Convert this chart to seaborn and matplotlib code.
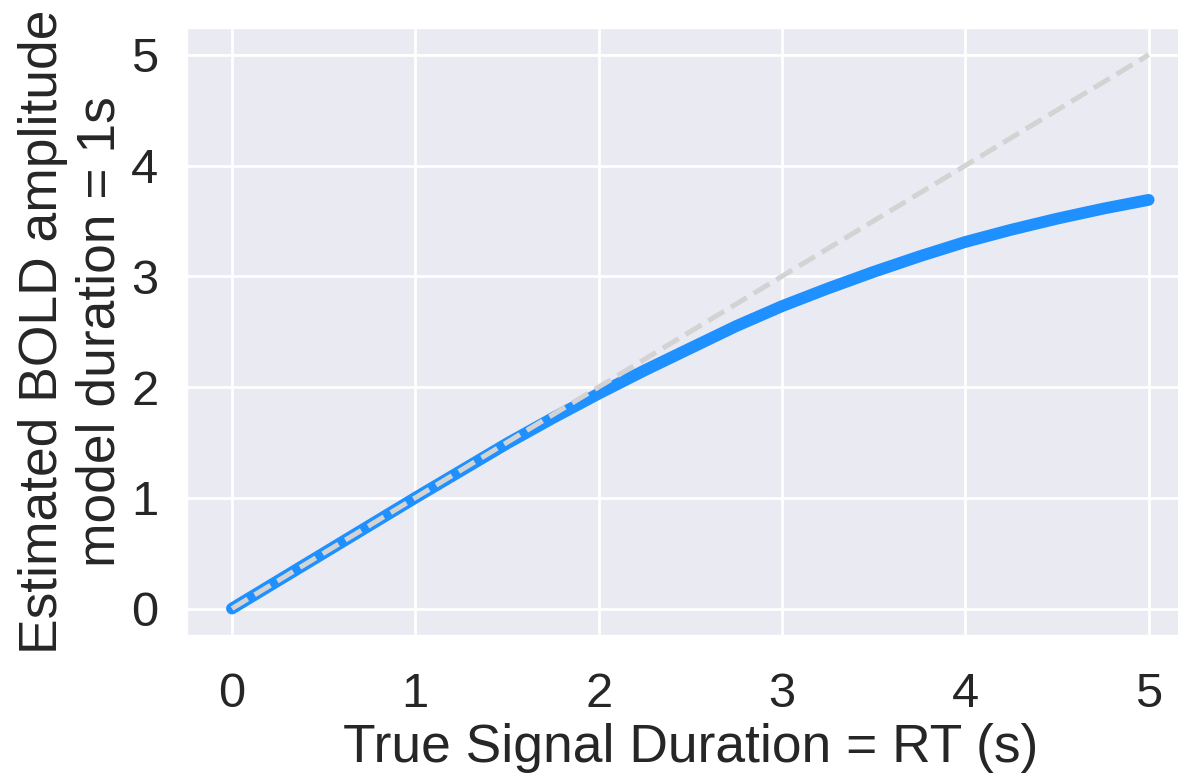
import seaborn as sns
import matplotlib.pyplot as plt
import pandas as pd

# true signal duration (s) and estimated amplitude with a 1s model
rt = [0.0, 0.25, 0.5, 0.75, 1.0, 1.25, 1.5, 1.75, 2.0, 2.25, 2.5,
      2.75, 3.0, 3.25, 3.5, 3.75, 4.0, 4.25, 4.5, 4.75, 5.0]
est_amp = [0.0, 0.25, 0.50, 0.75, 1.00, 1.245, 1.49, 1.72, 1.94, 2.15, 2.35,
           2.55, 2.73, 2.89, 3.04, 3.18, 3.31, 3.42, 3.52, 3.61, 3.69]
ident = [0, 5]
ticks = [0, 1, 2, 3, 4, 5]

df = pd.DataFrame({'rt': rt, 'amp': est_amp})
ref = pd.DataFrame({'x': ident, 'y': ident})

sns.set_theme(context='poster', style='darkgrid', font_scale=1.6)
plt.rcParams['font.family'] = ['Liberation Sans', 'DejaVu Sans']

fig = plt.figure(figsize=(11.78, 7.74), dpi=100)
ax = fig.add_axes([0.158, 0.178, 0.856, 0.787])

sns.lineplot(x='rt', y='amp', data=df, color='dodgerblue', linewidth=8.5,
             solid_capstyle='round', solid_joinstyle='round', ax=ax)
sns.lineplot(x='x', y='y', data=ref, color='lightgrey', linewidth=3.6,
             linestyle='--', ax=ax)

ax.set_xticks(ticks)
ax.set_yticks(ticks)
ax.set_xlim(-0.25, 5.25)
ax.set_ylim(-0.25, 5.25)
ax.tick_params(axis='x', pad=14)
ax.tick_params(axis='y', pad=8)
ax.set_xlabel('True Signal Duration = RT (s)', labelpad=4)
ax.set_ylabel('Estimated BOLD amplitude\nmodel duration = 1s', labelpad=4)

fig.savefig('out.png', dpi=100)
